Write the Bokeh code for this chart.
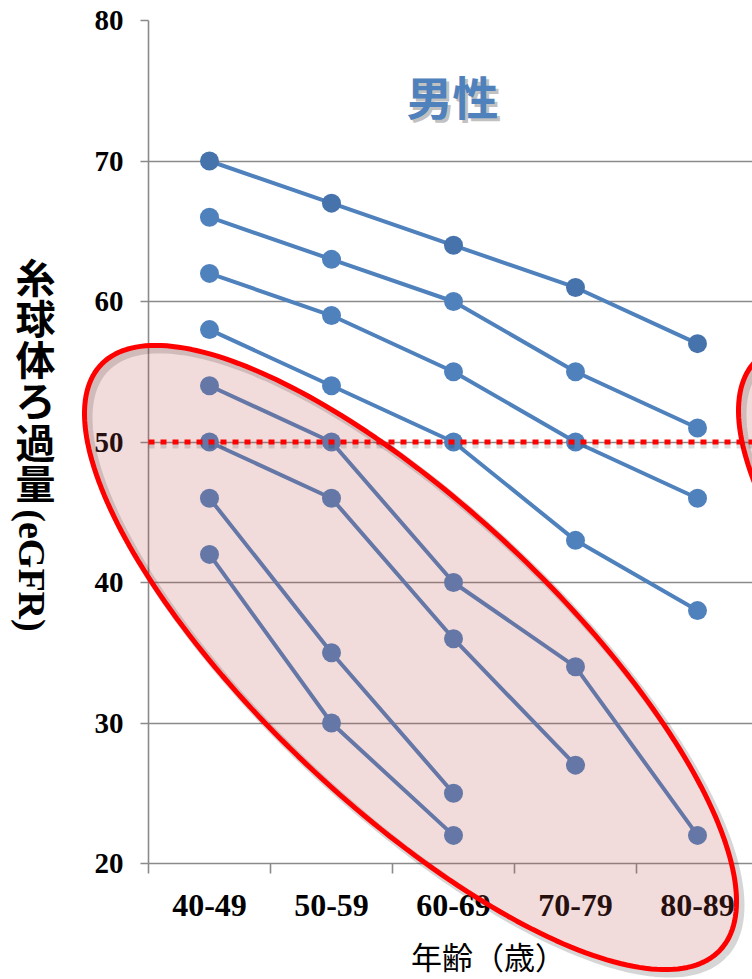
import numpy as np
from bokeh.plotting import figure
from bokeh.layouts import column
from bokeh.models import FixedTicker, Label, Range1d
from bokeh.embed import file_html
from bokeh.resources import INLINE

# ---------------- data ----------------
age_groups = ["40-49", "50-59", "60-69", "70-79", "80-89"]
series_1 = [70, 67, 64, 61, 57]
series_2 = [66, 63, 60, 55, 51]
series_3 = [62, 59, 55, 50, 46]
series_4 = [58, 54, 50, 43, 38]
series_5 = [54, 50, 40, 34, 22]
series_6 = [50, 46, 36, 27]
series_7 = [46, 35, 25]
series_8 = [42, 30, 22]
all_series = [series_1, series_2, series_3, series_4,
              series_5, series_6, series_7, series_8]
y_ticks = [20, 30, 40, 50, 60, 70, 80]
threshold = 50
title_text = "男性"
y_title_kanji = "糸球体ろ過量"
y_title_latin = "(eGFR)"
x_title = "年齢（歳）"

# ---------------- layout (pixels) ----------------
W, H = 752, 979
FL, FR, FT, FB = 148, 752, 20, 863
CAT_W = 122.0
Y0, Y1 = 20, 80

x_start = -0.5
x_end = x_start + (FR - FL) / CAT_W


def px2x(px):
    return x_start + (np.asarray(px, dtype=float) - FL) / CAT_W


def py2y(py):
    return Y0 + (FB - np.asarray(py, dtype=float)) * (Y1 - Y0) / (FB - FT)


BLUE = "#4f81bd"
BLUE_DARK = "#4673ab"
GRAY = "#8a8a8a"

# ---------------- main chart ----------------
p = figure(width=W, height=H, x_range=Range1d(x_start, x_end),
           y_range=Range1d(Y0, Y1), output_backend="svg",
           toolbar_location=None, min_border_left=FL, min_border_right=W - FR,
           min_border_top=FT, min_border_bottom=H - FB)
p.frame_align = False
p.outline_line_color = None
p.background_fill_color = "white"
p.border_fill_color = "white"

p.xgrid.visible = False
p.ygrid.ticker = FixedTicker(ticks=y_ticks)
p.ygrid.grid_line_color = GRAY
p.ygrid.grid_line_width = 1.6

p.yaxis.ticker = FixedTicker(ticks=y_ticks)
p.yaxis.axis_line_color = GRAY
p.yaxis.axis_line_width = 1.6
p.yaxis.major_tick_line_color = GRAY
p.yaxis.major_tick_line_width = 1.6
p.yaxis.major_tick_out = 8
p.yaxis.major_tick_in = 0
p.yaxis.minor_tick_line_color = None
p.yaxis.major_label_standoff = 17
p.yaxis.major_label_text_font = "Liberation Serif"
p.yaxis.major_label_text_font_style = "bold"
p.yaxis.major_label_text_font_size = "29px"
p.yaxis.major_label_text_color = "black"

p.xaxis.ticker = FixedTicker(ticks=list(range(len(age_groups))),
                             minor_ticks=[i - 0.5 for i in range(len(age_groups) + 1)])
p.xaxis.major_label_overrides = {i: g for i, g in enumerate(age_groups)}
p.xaxis.axis_line_color = GRAY
p.xaxis.axis_line_width = 1.6
p.xaxis.major_tick_line_color = None
p.xaxis.major_tick_out = 10
p.xaxis.major_tick_in = 0
p.xaxis.minor_tick_line_color = GRAY
p.xaxis.minor_tick_line_width = 1.6
p.xaxis.minor_tick_out = 10
p.xaxis.minor_tick_in = 0
p.xaxis.major_label_standoff = 21
p.xaxis.major_label_text_font = "Liberation Serif"
p.xaxis.major_label_text_font_style = "bold"
p.xaxis.major_label_text_font_size = "32px"
p.xaxis.major_label_text_color = "black"

for k, vals in enumerate(all_series):
    xs = list(range(len(vals)))
    p.line(xs, vals, line_color=BLUE, line_width=4)
    p.scatter(xs, vals, size=19, fill_color=BLUE_DARK if k == 0 else BLUE,
              line_color=None)

# ---------------- overlay (same data mapping, frame = whole canvas) ----------------
ov = figure(width=W, height=H, x_range=Range1d(float(px2x(0)), float(px2x(W))),
            y_range=Range1d(float(py2y(H)), float(py2y(0))),
            output_backend="svg", toolbar_location=None,
            x_axis_type=None, y_axis_type=None,
            min_border=0, min_border_left=0, min_border_right=0,
            min_border_top=0, min_border_bottom=0)
ov.frame_align = False
ov.grid.visible = False
ov.outline_line_color = None
ov.background_fill_color = None
ov.border_fill_color = None
ov.styles = {"position": "absolute", "top": "0px", "left": "0px"}

# highlight ellipse (geometry in pixels)
t = np.linspace(0, 2 * np.pi, 240)
cx, cy, ea, eb, th = 410.0, 657.0, 426.0, 149.0, np.radians(43.4)
ex = cx + ea * np.cos(t) * np.cos(th) - eb * np.sin(t) * np.sin(th)
ey = cy + ea * np.cos(t) * np.sin(th) + eb * np.sin(t) * np.cos(th)

for dx, dy in [(0, 0), (654, -3)]:
    ov.line(list(px2x(ex + dx + 4)), list(py2y(ey + dy + 4)),
            line_color="black", line_alpha=0.16, line_width=8)
    ov.patch(list(px2x(ex + dx)), list(py2y(ey + dy)),
             fill_color="#c0504d", fill_alpha=0.2,
             line_color="#ff0000", line_width=5)

# threshold dotted line with shadow
shadow_dy = 4 * (Y1 - Y0) / (FB - FT)
ov.line([x_start, x_end], [threshold - shadow_dy, threshold - shadow_dy],
        line_color="black", line_alpha=0.13, line_width=5, line_dash="6 6")
ov.line([x_start, x_end], [threshold, threshold], line_color="#ff0000",
        line_width=5, line_dash="6 6")

# title with shadow
for off, col, alpha in [((3, -3), "#8c8c8c", 0.55), ((0, 0), "#4f81bd", 1.0)]:
    ov.add_layout(Label(x=float(px2x(452)), y=float(py2y(94)), x_offset=off[0], y_offset=off[1],
                        text=title_text, text_align="center", text_baseline="middle",
                        text_font="Noto Sans CJK JP", text_font_style="bold",
                        text_font_size="46px", text_color=col, text_alpha=alpha))

# y title: stacked (vertical) characters, then rotated latin part
for i, ch in enumerate(y_title_kanji):
    ov.add_layout(Label(x=float(px2x(35)), y=float(py2y(275 + 41.3 * i)), text=ch,
                        text_align="center", text_baseline="middle",
                        text_font="Noto Sans CJK JP", text_font_style="bold",
                        text_font_size="40px", text_color="black"))
ov.add_layout(Label(x=float(px2x(31)), y=float(py2y(570)), text=y_title_latin,
                    angle=-np.pi / 2, text_align="center", text_baseline="middle",
                    text_font="Liberation Serif", text_font_style="bold",
                    text_font_size="38px", text_color="black"))

# x title
ov.add_layout(Label(x=float(px2x(488)), y=float(py2y(955)), text=x_title,
                    text_align="center", text_baseline="middle",
                    text_font="Noto Sans CJK JP", text_font_size="31px",
                    text_color="black"))

layout = column(p, ov)
open("out.html", "w").write(file_html(layout, INLINE))
